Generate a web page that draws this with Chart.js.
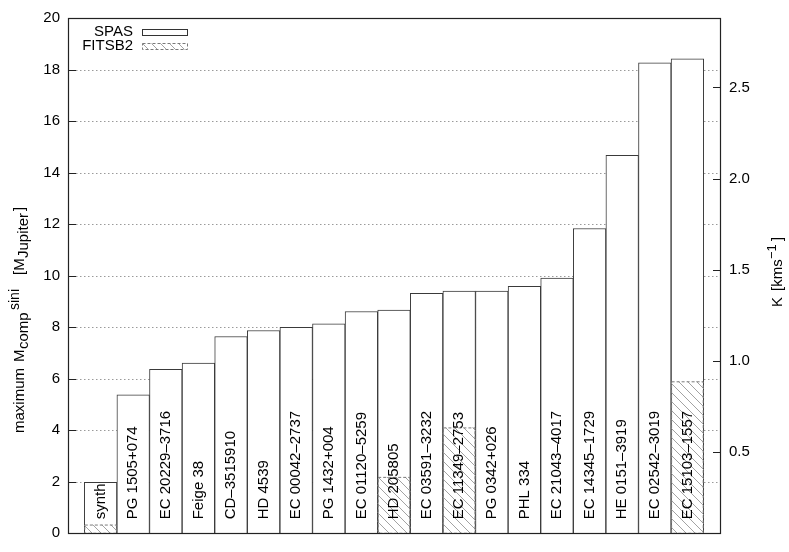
<!DOCTYPE html>
<html>
<head>
<meta charset="utf-8">
<script src="https://cdn.jsdelivr.net/npm/chart.js@4.4.1/dist/chart.umd.min.js"></script>
<style>
  html, body { margin: 0; padding: 0; background: #fff; }
  #wrap { width: 789px; height: 552px; position: relative; }
</style>
</head>
<body>
<div id="wrap"><canvas id="chart"></canvas></div>
<script>
// star names, written inside the bars
const categories = [
    'synth', 'PG 1505+074', 'EC 20229–3716', 'Feige 38', 'CD–3515910', 'HD 4539',
    'EC 00042–2737', 'PG 1432+004', 'EC 01120–5259', 'HD 205805', 'EC 03591–3232',
    'EC 11349–2753', 'PG 0342+026', 'PHL 334', 'EC 21043–4017', 'EC 14345–1729',
    'HE 0151–3919', 'EC 02542–3019', 'EC 15103–1557'
];
// maximum companion mass (Jupiter masses)
const spasMass = [1.98, 5.37, 6.36, 6.61, 7.64, 7.87, 7.99, 8.13, 8.61, 8.66, 9.31,
    9.40, 9.40, 9.59, 9.91, 11.83, 14.67, 18.26, 18.42];
const fitsb2Mass = [0.32, null, null, null, null, null, null, null, null, 2.17, null,
    4.09, null, null, null, null, null, null, 5.88];
const kTicks = [0.5, 1.0, 1.5, 2.0, 2.5];

const FONT = '"Liberation Sans", Arial, Helvetica, sans-serif';
Chart.defaults.font.family = FONT;
Chart.defaults.font.size = 15;
Chart.defaults.color = '#000';

// hatch pattern for the FITSB2 bars
function makeHatch() {
    const c = document.createElement('canvas');
    c.width = 9; c.height = 9;
    const g = c.getContext('2d');
    g.strokeStyle = '#8c8c8c';
    g.lineWidth = 0.8;
    g.beginPath();
    g.moveTo(-1, -1); g.lineTo(10, 10);
    g.moveTo(-1, 8); g.lineTo(1, 10);
    g.moveTo(8, -1); g.lineTo(10, 1);
    g.stroke();
    return g.createPattern(c, 'repeat');
}
const hatch = makeHatch();

// rotated label made of pieces: text, size, offset along the label, baseline shift
function drawRich(ctx, x, y, parts) {
    ctx.save();
    ctx.translate(x, y);
    ctx.rotate(-Math.PI / 2);
    ctx.textAlign = 'left';
    ctx.textBaseline = 'alphabetic';
    ctx.fillStyle = '#000';
    parts.forEach((p) => {
        ctx.font = p.s + 'px ' + FONT;
        ctx.fillText(p.t, p.at, p.dy || 0);
    });
    ctx.restore();
}

const decor = {
    id: 'decor',
    beforeDatasetsDraw(chart) {
        const { ctx, chartArea: a, scales } = chart;
        ctx.save();
        ctx.strokeStyle = '#9a9a9a';
        ctx.lineWidth = 1;
        ctx.setLineDash([1.5, 2.5]);
        scales.y.ticks.forEach((t) => {
            const py = Math.round(scales.y.getPixelForValue(t.value)) + 0.5;
            ctx.beginPath();
            ctx.moveTo(a.left, py);
            ctx.lineTo(a.right, py);
            ctx.stroke();
        });
        ctx.restore();
    },
    afterDatasetsDraw(chart) {
        const { ctx, chartArea: a, scales } = chart;
        // dashed outline of FITSB2 bars
        const meta = chart.getDatasetMeta(1);
        ctx.save();
        ctx.strokeStyle = '#7a7a7a';
        ctx.lineWidth = 1;
        ctx.setLineDash([3, 2]);
        meta.data.forEach((el) => {
            const p = el.getProps(['x', 'y', 'base', 'width'], true);
            ctx.strokeRect(p.x - p.width / 2 + 0.5, p.y, p.width - 1, p.base - p.y);
        });
        ctx.restore();

        // names inside the bars
        ctx.save();
        ctx.font = '15px ' + FONT;
        ctx.fillStyle = '#000';
        categories.forEach((name, i) => {
            const px = scales.x.getPixelForValue(i);
            ctx.save();
            ctx.translate(px, a.bottom - 14);
            ctx.rotate(-Math.PI / 2);
            ctx.textAlign = 'left';
            ctx.textBaseline = 'middle';
            ctx.fillText(name, 0, 0);
            ctx.restore();
        });
        ctx.restore();
    },
    afterDraw(chart) {
        const { ctx, chartArea: a, scales } = chart;
        ctx.save();
        // frame
        ctx.strokeStyle = '#222';
        ctx.lineWidth = 1.2;
        ctx.strokeRect(Math.round(a.left) + 0.5, Math.round(a.top) + 0.5,
            Math.round(a.right - a.left), Math.round(a.bottom - a.top));
        // inward ticks
        ctx.beginPath();
        scales.y.ticks.forEach((t) => {
            const py = Math.round(scales.y.getPixelForValue(t.value)) + 0.5;
            ctx.moveTo(a.left, py);
            ctx.lineTo(a.left + 8, py);
        });
        scales.y2.ticks.forEach((t) => {
            const py = Math.round(scales.y2.getPixelForValue(t.value)) + 0.5;
            ctx.moveTo(a.right, py);
            ctx.lineTo(a.right - 7, py);
        });
        ctx.stroke();

        // legend
        ctx.font = '15px ' + FONT;
        ctx.fillStyle = '#000';
        ctx.textAlign = 'right';
        ctx.textBaseline = 'middle';
        ctx.fillText('SPAS', 133, 32);
        ctx.fillText('FITSB2', 133, 46);
        ctx.strokeStyle = '#333';
        ctx.lineWidth = 1;
        ctx.strokeRect(142.5, 29.5, 45, 6);
        ctx.fillStyle = hatch;
        ctx.fillRect(142.5, 43.5, 45, 6);
        ctx.strokeStyle = '#7a7a7a';
        ctx.setLineDash([3, 2]);
        ctx.strokeRect(142.5, 43.5, 45, 6);
        ctx.restore();

        // axis titles
        drawRich(ctx, 24, 433, [
            { t: 'maximum', s: 15, at: 0 },
            { t: 'M', s: 15, at: 71 },
            { t: 'comp', s: 15, at: 84, dy: 4 },
            { t: 'sini', s: 14, at: 123, dy: -5 },
            { t: '[M', s: 15, at: 158 },
            { t: 'Jupiter', s: 15, at: 175, dy: 4 },
            { t: ']', s: 15, at: 222 }
        ]);
        drawRich(ctx, 782, 307, [
            { t: 'K', s: 15, at: 0 },
            { t: '[kms', s: 15, at: 16 },
            { t: '−1', s: 13, at: 48, dy: -6 },
            { t: ']', s: 15, at: 66 }
        ]);
    }
};

new Chart(document.getElementById('chart'), {
    type: 'bar',
    data: {
        datasets: [
            {
                label: 'SPAS',
                data: spasMass.map((v, i) => ({ x: i, y: v })),
                backgroundColor: '#fff',
                borderColor: '#3a3a3a',
                borderWidth: 1,
                grouped: false,
                order: 1,
                barPercentage: 1,
                categoryPercentage: 1
            },
            {
                label: 'FITSB2',
                data: fitsb2Mass.map((v, i) => ({ x: i, y: v })).filter((p) => p.y !== null),
                backgroundColor: hatch,
                borderWidth: 0,
                grouped: false,
                order: 0,
                barPercentage: 1,
                categoryPercentage: 1
            }
        ]
    },
    options: {
        responsive: true,
        maintainAspectRatio: false,
        animation: false,
        layout: { padding: { top: 17.5, bottom: 18.7, left: 0, right: 0 } },
        plugins: {
            legend: { display: false },
            tooltip: { enabled: false }
        },
        scales: {
            x: {
                type: 'linear',
                min: -1,
                max: 19,
                offset: false,
                display: false
            },
            y: {
                position: 'left',
                min: 0,
                max: 20,
                ticks: { stepSize: 2, padding: 8, font: { size: 15 } },
                grid: { display: false, drawTicks: false },
                border: { display: false },
                afterFit: (s) => { s.width = 68; }
            },
            y2: {
                position: 'right',
                min: 0.0545,
                max: 2.881,
                afterBuildTicks: (s) => { s.ticks = kTicks.map((v) => ({ value: v })); },
                ticks: { padding: 9, font: { size: 15 }, callback: (v) => v.toFixed(1) },
                grid: { display: false, drawTicks: false },
                border: { display: false },
                afterFit: (s) => { s.width = 69; }
            }
        }
    },
    plugins: [decor]
});
</script>
</body>
</html>
